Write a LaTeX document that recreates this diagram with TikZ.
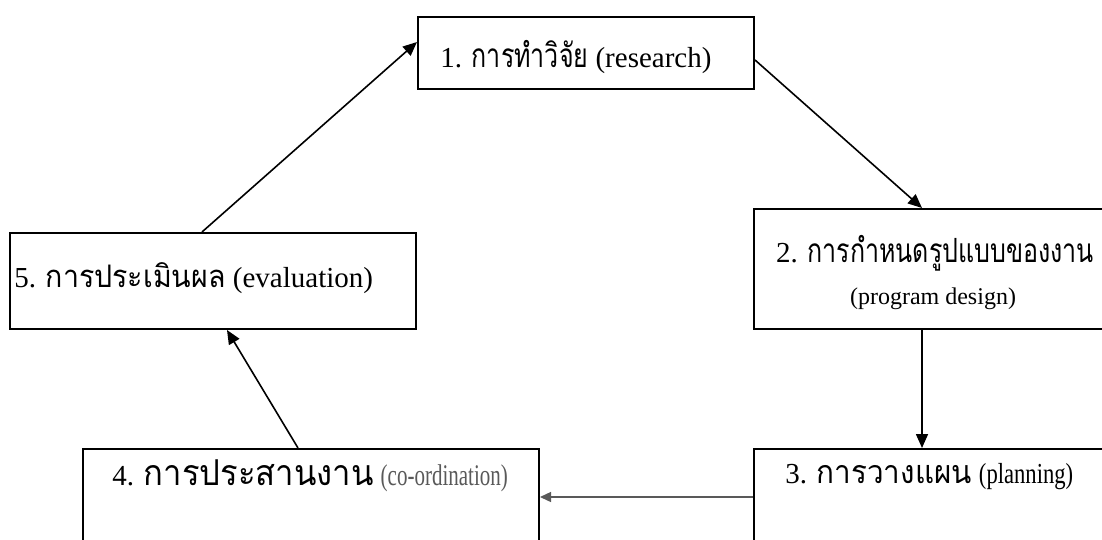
\documentclass[tikz,border=0pt]{standalone}
\usepackage{fontspec}
\setmainfont{Liberation Serif}
\newfontfamily\thaifont[Script=Thai,Scale=1.15,FakeStretch=0.75]{Loma}
\newfontfamily\thaiwidefont[Script=Thai,Scale=1.15,FakeStretch=0.92]{Loma}
\newfontfamily\narrowserif[FakeStretch=0.78]{Liberation Serif}
\newfontfamily\narrowerserif[FakeStretch=0.7]{Liberation Serif}
\usetikzlibrary{calc,arrows.meta}
\definecolor{softgray}{gray}{0.35}
\newcommand\thaitext[2]{{\fontsize{#1}{#1}\thaifont #2}}
\newcommand\thaiwide[2]{{\fontsize{#1}{#1}\thaiwidefont #2}}
\begin{document}
\begin{tikzpicture}[x=0.5pt,y=-0.5pt,
  stagebox/.style={draw,line width=1pt,inner sep=0pt,anchor=north west},
  stagetext/.style={inner sep=0pt,anchor=base west,font=\fontsize{14.5}{17}\selectfont},
  flow/.style={line width=0.8pt,-{Triangle[length=7pt,width=6pt]}}]
\useasboundingbox (0,0) rectangle (1102,540);
% boxes
\node[stagebox,minimum width=168pt,minimum height=36pt] (research) at (417,16) {};
\node[stagebox,minimum width=182pt,minimum height=60pt] (design) at (753,208) {};
\node[stagebox,minimum width=182pt,minimum height=60pt] (plan) at (753,448) {};
\node[stagebox,minimum width=228pt,minimum height=60pt] (coord) at (82,448) {};
\node[stagebox,minimum width=203pt,minimum height=48pt] (eval) at (9,232) {};
% texts
\node[stagetext] (researchlabel) at (440,68) {1. \thaitext{14.5}{การทำวิจัย} (research)};
\node[stagetext,anchor=base] (designlabel) at (935,262) {2. \thaitext{14.5}{การกำหนดรูปแบบของงาน}};
\node[stagetext,anchor=base,font=\fontsize{12}{14}\selectfont] (designsub) at (933,304) {(program design)};
\node[stagetext] (planlabel) at (785,483) {3. \thaiwide{14}{การวางแผน} {\narrowserif(planning)}};
\node[stagetext] (coordlabel) at (112,485) {4. \thaiwide{15.5}{การประสานงาน} {\fontsize{15}{17}\narrowerserif\color{softgray}(co-ordination)}};
\node[stagetext] (evallabel) at (14,287) {5. \thaiwide{13.5}{การประเมินผล} (evaluation)};
% arrows
\draw[flow] ($(eval.north west)+(193,0)$) -- ($(research.north west)+(0,26)$);
\draw[flow] ($(research.north east)+(0,44)$) -- ($(design.north west)+(169,0)$);
\draw[flow] ($(design.south west)+(169,0)$) -- ($(plan.north west)+(169,0)$);
\draw[flow,softgray,line width=0.7pt,-{Triangle[length=5.5pt,width=5pt]}] ($(plan.north west)+(0,49)$) -- ($(coord.north east)+(0,49)$);
\draw[flow] ($(coord.north west)+(216,0)$) -- ($(eval.south west)+(218,0)$);
\end{tikzpicture}
\end{document}
